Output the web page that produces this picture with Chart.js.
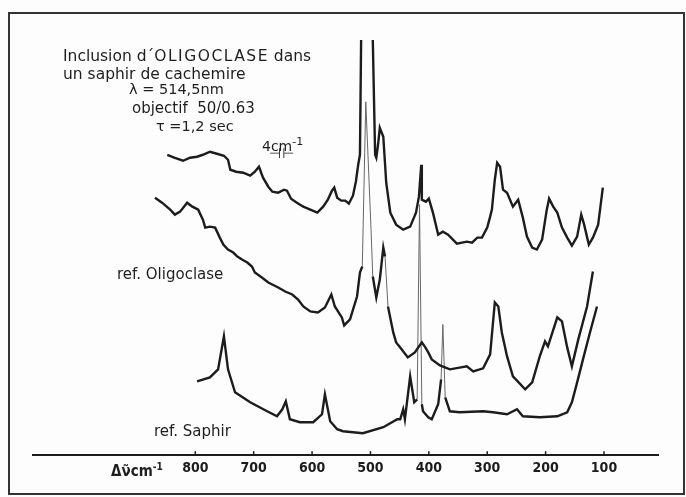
<!DOCTYPE html>
<html>
<head>
<meta charset="utf-8">
<script src="https://cdn.jsdelivr.net/npm/chart.js@4/dist/chart.umd.min.js"></script>
<style>
  html, body { margin: 0; padding: 0; background: #fdfdfd; }
  #wrap { position: relative; width: 686px; height: 497px; overflow: hidden; background: #fdfdfd; }
  #frame { position: absolute; left: 8px; top: 12px; width: 677px; height: 483px; border: 2px solid #333; box-sizing: border-box; pointer-events: none; }
  canvas { position: absolute; left: 0; top: 0; }
  .t { position: absolute; font-family: "DejaVu Sans", sans-serif; color: #1e1e1e; white-space: pre; line-height: 18px; }
</style>
</head>
<body>
<div id="wrap">
  <canvas id="c" width="686" height="497"></canvas>
  <div id="frame"></div>
  <div class="t" style="left:63px; top:47px; font-size:15.5px;">Inclusion d´<span style="letter-spacing:1.5px">OLIGOCLASE</span> dans</div>
  <div class="t" style="left:63px; top:65px; font-size:15.5px;">un saphir de cachemire</div>
  <div class="t" style="left:129px; top:80px; font-size:14.5px;">λ = 514,5nm</div>
  <div class="t" style="left:132px; top:99px; font-size:15px;">objectif  50/0.63</div>
  <div class="t" style="left:156px; top:117px; font-size:14.5px;">τ =1,2 sec</div>
  <div class="t" style="left:262px; top:133px; font-size:14px;">4cm<sup style="font-size:11px">-1</sup></div>
  <div class="t" style="left:269px; top:144px; font-size:14px; letter-spacing:1px;">⊣⊢</div>
  <div class="t" style="left:117px; top:265px; font-size:15px;">ref. Oligoclase</div>
  <div class="t" style="left:154px; top:422px; font-size:15px;">ref. Saphir</div>
  <div class="t" style="left:111px; top:458px; font-size:15px; font-weight:bold; font-family:'DejaVu Sans Condensed','DejaVu Sans',sans-serif;">Δν̃cm<sup style="font-size:10px">-1</sup></div>
</div>
<script>
// Raman shift (cm-1) and intensity (arbitrary, height above baseline) for each trace
const inclusionWave = [848,835,821,809,797,787,775,763,751,744,740,730,718,706,698,691,684,675,668,658,648,643,636,626,615,603,591,581,573,566,562,557,550,543,537,530,525,521,518,516,506,496,492,490,487,484,478,473,466,456,444,432,422,417,413,412,405,400,393,384,376,367,352,335,326,317,309,300,295,292,287,283,278,273,266,256,247,239,232,223,215,206,198,194,187,180,172,163,155,146,139,134,126,119,110,102];
const inclusionInt = [301,298,295,298,299,301,304,302,300,296,286,284,283,280,284,289,278,269,264,263,266,265,257,253,249,246,243,249,256,265,268,258,255,255,252,260,274,291,301,416,null,416,301,298,311,328,319,273,243,231,226,229,243,259,291,256,254,257,243,221,224,221,212,214,213,218,218,228,239,246,276,293,289,266,263,249,256,238,219,208,206,216,246,257,249,243,228,218,210,219,241,231,211,218,231,268];

const oligoclaseWave = [869,857,843,835,826,814,805,795,787,783,775,766,758,752,744,735,728,720,711,703,698,686,675,658,646,634,624,615,603,590,578,567,561,549,545,535,523,518,514,508,499,496,490,484,478,475,470,461,456,449,436,424,412,406,401,395,381,364,345,335,324,307,295,287,281,275,266,256,235,223,210,201,196,180,172,163,155,144,129,119];
const oligoclaseInt = [258,253,246,241,244,253,249,246,236,228,229,228,218,211,206,203,199,196,193,189,183,178,173,168,164,161,156,149,144,143,148,161,149,138,130,136,159,183,189,354,226,179,158,176,208,199,149,123,113,108,98,103,113,108,103,96,90,86,88,89,84,87,101,153,149,123,99,79,66,73,99,114,109,138,134,108,89,116,149,184];

const saphirWave = [797,775,761,751,744,732,706,677,660,651,645,638,621,598,583,578,569,557,547,513,478,454,449,444,441,432,425,420,416,412,410,401,395,384,379,376,372,364,347,307,290,266,249,239,210,180,163,155,146,136,124,112];
const saphirInt = [74,78,86,119,86,63,53,44,39,46,54,36,33,33,41,61,34,26,24,22,28,36,36,46,36,79,53,56,251,51,44,38,36,51,76,131,58,44,43,44,43,41,46,39,38,39,43,53,73,96,123,149];

const tickValues = [800,700,600,500,400,300,200,100];

function pts(w, v) { return w.map((x, i) => ({ x: x, y: v[i] })); }
function steep(ctx) {
  const dx = Math.abs(ctx.p1.x - ctx.p0.x), dy = Math.abs(ctx.p1.y - ctx.p0.y);
  return dy / Math.max(0.5, dx) > 12;
}
const INK = '#1c1c1c';
const thinSeg = {
  borderWidth: ctx => steep(ctx) ? 1 : 2.4,
  borderColor: ctx => steep(ctx) ? '#666' : INK
};

const tickMarks = {
  id: 'tickMarks',
  afterDatasetsDraw(chart) {
    const sx = chart.scales.x, c = chart.ctx, b = chart.chartArea.bottom;
    c.save(); c.strokeStyle = INK; c.lineWidth = 1.5;
    tickValues.forEach(v => {
      const x = sx.getPixelForValue(v);
      c.beginPath(); c.moveTo(x, b - 4); c.lineTo(x, b); c.stroke();
    });
    c.restore();
  }
};

new Chart(document.getElementById('c'), {
  type: 'line',
  data: {
    datasets: [
      { label: 'Inclusion', data: pts(inclusionWave, inclusionInt), borderColor: INK, borderWidth: 2.4, pointRadius: 0, tension: 0, spanGaps: false },
      { label: 'ref. Oligoclase', data: pts(oligoclaseWave, oligoclaseInt), borderColor: INK, borderWidth: 2.4, pointRadius: 0, tension: 0, segment: thinSeg },
      { label: 'ref. Saphir', data: pts(saphirWave, saphirInt), borderColor: INK, borderWidth: 2.4, pointRadius: 0, tension: 0, segment: thinSeg }
    ]
  },
  options: {
    responsive: false,
    animation: false,
    devicePixelRatio: 1,
    layout: { padding: { left: 33, right: 28, top: 26, bottom: 15 } },
    plugins: { legend: { display: false }, tooltip: { enabled: false } },
    scales: {
      x: {
        type: 'linear',
        reverse: true,
        min: 7.5,
        max: 1078,
        grid: { display: false, drawTicks: false },
        border: { display: true, color: INK, width: 2 },
        afterBuildTicks: s => { s.ticks = tickValues.map(v => ({ value: v })); },
        ticks: {
          padding: 5,
          color: INK,
          font: { family: "'DejaVu Sans Condensed','DejaVu Sans',sans-serif", size: 14, weight: 'bold' },
          callback: v => String(v)
        }
      },
      y: { type: 'linear', min: 0, max: 430, display: false }
    }
  },
  plugins: [tickMarks]
});
</script>
</body>
</html>
